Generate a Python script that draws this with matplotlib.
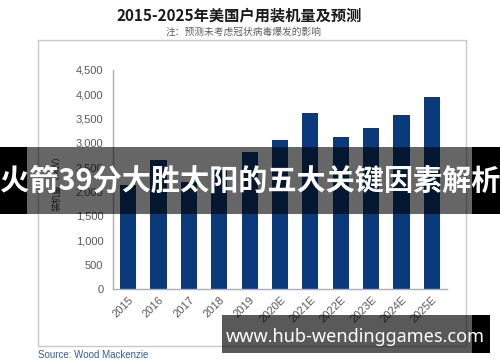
import matplotlib
matplotlib.use("Agg")
import matplotlib.pyplot as plt
from matplotlib.patches import Rectangle

# data
years = ["2015", "2016", "2017", "2018", "2019", "2020E", "2021E",
         "2022E", "2023E", "2024E", "2025E"]
installs = [2130, 2640, 2200, 2440, 2810, 3070, 3610, 3130, 3300, 3580, 3950]
yticks = [0, 500, 1000, 1500, 2000, 2500, 3000, 3500, 4000, 4500]

title = "2015-2025年美国户用装机量及预测"
subtitle = "注：预测未考虑冠状病毒爆发的影响"
ylabel = "装机量（MW）"
source = "Source: Wood Mackenzie"
banner_title = "火箭39分大胜太阳的五大关键因素解析"
banner_url = "www.hub-wendinggames.com"

cjk = ["Noto Sans CJK SC", "DejaVu Sans"]
plt.rcParams["font.family"] = ["Liberation Sans", "Noto Sans CJK SC", "DejaVu Sans"]

fig = plt.figure(figsize=(5, 3.62), dpi=100)
fig.patch.set_facecolor("white")

# outer chart frame
fig.patches.append(Rectangle((0.076, 0.044), 0.856, 0.8455, transform=fig.transFigure,
                             fill=False, edgecolor="#c9c9c9", lw=1, zorder=1))

fig.text(0.478, 0.958, title, ha="center", va="center", fontsize=11,
         fontweight="bold", family=cjk, color="#1a1a1a")
fig.text(0.488, 0.912, subtitle, ha="center", va="center", fontsize=7,
         family=cjk, color="#606060")

ax = fig.add_axes([0.226, 0.2017, 0.668, 0.605])
x = range(len(years))
ax.bar(x, installs, width=0.53, color="#0b3a7c", zorder=2)
ax.set_xlim(-0.5, len(years) - 0.5)
ax.set_ylim(0, 4500)
ax.set_yticks(yticks)
ax.set_yticklabels([f"{v:,}" for v in yticks])
ax.set_xticks(list(x))
ax.set_xticklabels(years, rotation=45, ha="right", rotation_mode="anchor")
ax.tick_params(axis="both", length=0, labelsize=8, labelcolor="#595959")
ax.tick_params(axis="y", pad=7)
ax.tick_params(axis="x", pad=4)
for s in ["top", "right"]:
    ax.spines[s].set_visible(False)
for s in ["left", "bottom"]:
    ax.spines[s].set_color("#b0b0b0")
    ax.spines[s].set_linewidth(1)

fig.text(0.114, 0.5, ylabel, rotation=90, ha="center", va="center",
         fontsize=6.5, family=cjk, color="#404040")
fig.text(0.076, 0.018, source, ha="left", va="center", fontsize=7,
         color="#3b5b92")

# overlay band across the middle
fig.patches.append(Rectangle((0, 0.4088), 0.054, 0.1852, transform=fig.transFigure,
                             facecolor="black", lw=0, zorder=10))
fig.patches.append(Rectangle((0.054, 0.4088), 0.89, 0.1852, transform=fig.transFigure,
                             facecolor="black", alpha=0.6, lw=0, zorder=10))
fig.patches.append(Rectangle((0.944, 0.4088), 0.056, 0.1852, transform=fig.transFigure,
                             facecolor="black", lw=0, zorder=10))
fig.text(0.5, 0.5, banner_title, ha="center", va="center", fontsize=21,
         fontweight="bold", family=cjk, color="white", zorder=11)

# url banner at the bottom right
fig.patches.append(Rectangle((0.444, 0.025), 0.5, 0.105, transform=fig.transFigure,
                             facecolor="black", alpha=0.65, lw=0, zorder=10))
fig.patches.append(Rectangle((0.944, 0.025), 0.036, 0.105, transform=fig.transFigure,
                             facecolor="black", lw=0, zorder=10))
fig.text(0.71, 0.07, banner_url, ha="center", va="center", fontsize=13,
         fontweight="bold", family=["Noto Sans", "DejaVu Sans"], color="white", zorder=11)

fig.savefig("out.png", dpi=100)
